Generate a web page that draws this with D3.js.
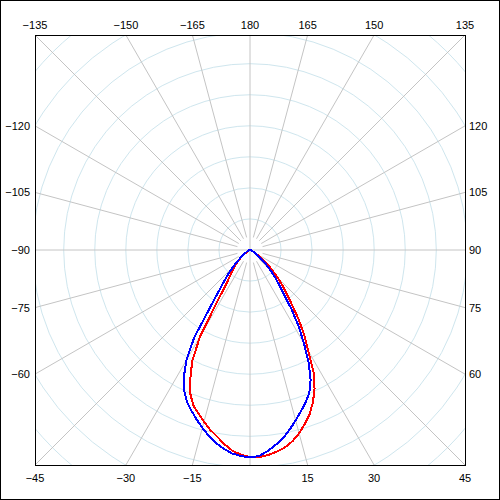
<!DOCTYPE html>
<html>
<head>
<meta charset="utf-8">
<script src="https://cdn.jsdelivr.net/npm/d3@7"></script>
<style>
  body { margin: 0; background: #fff; }
  svg { display: block; }
  text { font-family: "Liberation Sans", Arial, sans-serif; font-size: 11px; fill: #000; }
</style>
</head>
<body>
<svg id="chart" width="500" height="500"></svg>
<script>
// Polar angles (0 = straight down, negative to the left), step 2.5 deg.
const angles = d3.range(-90, 90.01, 2.5);

// Red curve, one value per angle.
const redValues = [0, 0, 0, 0, 0.2, 0.2, 0.2, 0.3, 0.3, 0.5, 0.6, 0.8, 1.0, 1.4, 1.9, 2.9, 3.9, 5.2, 6.4, 7.7,
    9.0, 10.6, 13.2, 19.3, 32.2, 40.3, 45.4, 50.2, 53.3, 55.2, 57.2, 59.3, 61.0, 63.1, 64.9, 66.0, 66.7,
    66.8, 66.3, 65.5, 64.6, 63.1, 61.1, 58.7, 56.2, 53.0, 49.2, 44.3, 37.4, 32.5, 27.4, 22.2, 18.4, 15.5,
    12.6, 10.0, 7.7, 5.8, 4.2, 2.9, 1.9, 1.3, 1.0, 0.6, 0.5, 0.3, 0.3, 0.2, 0.2, 0, 0, 0, 0];

// Blue curve, one value per angle.
const blueValues = [0, 0, 0, 0, 0.2, 0.2, 0.3, 0.3, 0.5, 0.6, 0.8, 1.0, 1.3, 1.6, 2.3, 3.2, 4.2, 5.8, 7.7,
    10.0, 12.6, 16.1, 21.9, 33.5, 40.9, 46.2, 50.1, 53.0, 55.1, 57.2, 59.3, 61.3, 63.1, 64.6, 65.8, 66.4, 66.8,
    66.4, 65.0, 63.3, 61.5, 59.2, 56.8, 54.5, 52.3, 49.9, 46.2, 40.9, 34.8, 29.2, 23.4, 17.8, 14.5, 11.9,
    9.7, 7.4, 5.5, 4.2, 2.9, 2.1, 1.6, 1.3, 1.0, 0.6, 0.5, 0.3, 0.3, 0.2, 0.2, 0, 0, 0, 0];

// Grid rings and spokes.
const ringValues = d3.range(10, 100, 10);
const spokeAngles = d3.range(0, 360, 15);

// Angle labels around the frame.
const labelAngles = [-165, -150, -135, -120, -105, -90, -75, -60, -45, -30, -15,
    15, 30, 45, 60, 75, 90, 105, 120, 135, 150, 165, 180];

const width = 500, height = 500;
const cx = 250, cy = 250, half = 215;

const svg = d3.select("#chart");

svg.append("rect")
    .attr("x", 0.5).attr("y", 0.5)
    .attr("width", width - 1).attr("height", height - 1)
    .attr("fill", "#fff")
    .attr("stroke", "#000");

const r = d3.scaleLinear().domain([0, 100]).range([0, 310.5]);
const rad = d => d * Math.PI / 180;

// clip in the plot group's own (centred) coordinates
svg.append("defs").append("clipPath")
    .attr("id", "plotclip")
    .append("rect")
    .attr("x", -half).attr("y", -half)
    .attr("width", 2 * half).attr("height", 2 * half);

const plot = svg.append("g")
    .attr("transform", "translate(" + cx + "," + cy + ")")
    .attr("clip-path", "url(#plotclip)");

// rings
plot.selectAll(".ring")
    .data(ringValues)
    .enter().append("circle")
    .attr("class", "ring")
    .attr("r", d => r(d))
    .attr("fill", "none")
    .attr("stroke", "#cfe6ee")
    .attr("stroke-width", 1);

// spokes
plot.selectAll(".spoke")
    .data(spokeAngles)
    .enter().append("line")
    .attr("class", "spoke")
    .attr("x1", d => (d % 90 === 0 ? 0 : 13) * Math.sin(rad(d)))
    .attr("y1", d => (d % 90 === 0 ? 0 : 13) * Math.cos(rad(d)))
    .attr("x2", d => 400 * Math.sin(rad(d)))
    .attr("y2", d => 400 * Math.cos(rad(d)))
    .attr("stroke", "#c4c4c4")
    .attr("stroke-width", 1);

// curves
const line = d3.lineRadial()
    .angle(d => rad(180 - d[0]))
    .radius(d => r(d[1]));

const series = [
    {name: "red", color: "#ff0000", values: redValues},
    {name: "blue", color: "#0000ff", values: blueValues}
];

plot.selectAll(".curve")
    .data(series)
    .enter().append("path")
    .attr("class", "curve")
    .attr("d", s => line(angles.map((a, i) => [a, s.values[i]])))
    .attr("fill", "none")
    .attr("stroke", s => s.color)
    .attr("stroke-width", 2)
    .attr("stroke-linejoin", "round")
    .style("shape-rendering", "crispEdges");

// frame
svg.append("rect")
    .attr("x", cx - half + 0.5).attr("y", cy - half + 0.5)
    .attr("width", 2 * half).attr("height", 2 * half)
    .attr("fill", "none")
    .attr("stroke", "#000");

// labels where each spoke meets the frame
const labelPos = a => {
    let s = Math.sin(rad(a)), c = Math.cos(rad(a));
    if (Math.abs(c) >= Math.abs(s) - 1e-9) {
        let x = cx + half * s / Math.abs(c);
        return c > 0 ? {x: x, y: cy + half + 17, anchor: "middle"}
                     : {x: x, y: cy - half - 6, anchor: "middle"};
    }
    let y = cy + half * c / Math.abs(s) + 4;
    return s > 0 ? {x: cx + half + 4, y: y, anchor: "start"}
                 : {x: cx - half - 5, y: y, anchor: "end"};
};

svg.selectAll(".alabel")
    .data(labelAngles)
    .enter().append("text")
    .attr("class", "alabel")
    .attr("x", d => labelPos(d).x)
    .attr("y", d => labelPos(d).y)
    .attr("text-anchor", d => labelPos(d).anchor)
    .text(d => d < 0 ? "\u2212" + Math.abs(d) : String(d));
</script>
</body>
</html>
